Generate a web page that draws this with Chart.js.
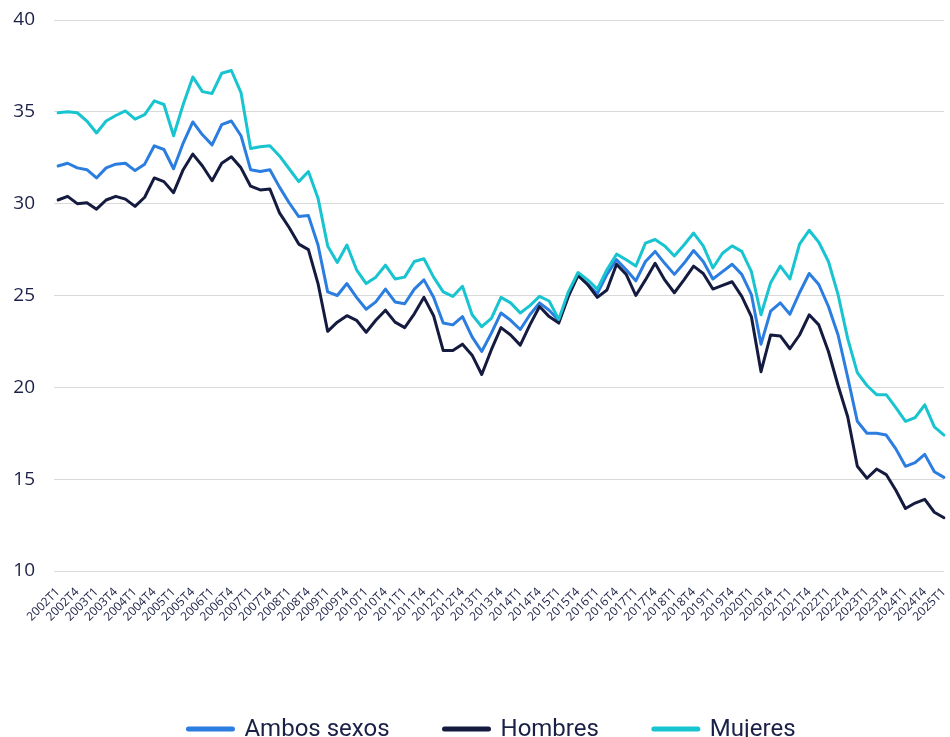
<!DOCTYPE html>
<html>
<head>
<meta charset="utf-8">
<script src="https://cdn.jsdelivr.net/npm/chart.js@4.4.1/dist/chart.umd.min.js"></script>
<style>
    html, body { margin: 0; padding: 0; background: #ffffff; }
    #chartContainer { width: 950px; height: 737px; position: relative; }
</style>
</head>
<body>
<div id="chartContainer"><canvas id="myChart"></canvas></div>
<script>
// trimestres 2002T1 .. 2025T1
var quarters = [];
for (var year = 2002; year <= 2025; year++) {
    for (var q = 1; q <= 4; q++) {
        if (year === 2025 && q > 1) break;
        quarters.push(year + 'T' + q);
    }
}

// etiquetas del eje tal como aparecen (una cada dos trimestres)
var tickLabels = [
    '2002T1', '2002T4', '2003T1', '2003T4', '2004T1', '2004T4', '2005T1', '2005T4',
    '2006T1', '2006T4', '2007T1', '2007T4', '2008T1', '2008T4', '2009T1', '2009T4',
    '2010T1', '2010T4', '2011T1', '2011T4', '2012T1', '2012T4', '2013T1', '2013T4',
    '2014T1', '2014T4', '2015T1', '2015T4', '2016T1', '2016T4', '2017T1', '2017T4',
    '2018T1', '2018T4', '2019T1', '2019T4', '2020T1', '2020T4', '2021T1', '2021T4',
    '2022T1', '2022T4', '2023T1', '2023T4', '2024T1', '2024T4', '2025T1'
];

var ambosSexos = [
    32.05, 32.2, 31.95, 31.85, 31.4, 31.95, 32.15, 32.2, 31.8, 32.15,
    33.15, 32.95, 31.9, 33.3, 34.45, 33.75, 33.2, 34.3, 34.5, 33.7,
    31.85, 31.75, 31.85, 30.9, 30.05, 29.3, 29.35, 27.75, 25.2, 25.0,
    25.65, 24.9, 24.25, 24.65, 25.35, 24.65, 24.55, 25.35, 25.85, 24.9,
    23.5, 23.4, 23.85, 22.75, 21.95, 22.95, 24.05, 23.65, 23.15, 23.95,
    24.6, 24.2, 23.65, 25.1, 26.1, 25.6, 25.1, 26.15, 26.95, 26.4,
    25.8, 26.85, 27.4, 26.75, 26.15, 26.75, 27.45, 26.85, 25.9, 26.3,
    26.7, 26.15, 25.05, 22.35, 24.15, 24.6, 23.98, 25.15, 26.2, 25.6,
    24.4, 22.85, 20.55, 18.15, 17.5, 17.5, 17.4, 16.65, 15.7, 15.9,
    16.35, 15.4, 15.1
];

var hombres = [
    30.2, 30.4, 30.0, 30.05, 29.7, 30.2, 30.4, 30.25, 29.85, 30.35,
    31.4, 31.2, 30.6, 31.85, 32.7, 32.05, 31.25, 32.2, 32.55, 31.95,
    30.95, 30.75, 30.8, 29.5, 28.7, 27.8, 27.5, 25.65, 23.05, 23.55,
    23.9, 23.65, 23.0, 23.65, 24.2, 23.55, 23.25, 24.0, 24.9, 23.9,
    22.0, 22.0, 22.35, 21.75, 20.7, 22.05, 23.25, 22.85, 22.3, 23.4,
    24.4, 23.85, 23.5, 24.95, 26.1, 25.6, 24.9, 25.3, 26.7, 26.15,
    25.0, 25.85, 26.75, 25.85, 25.15, 25.85, 26.6, 26.2, 25.35, 25.55,
    25.75, 24.95, 23.85, 20.85, 22.85, 22.8, 22.1, 22.85, 23.95, 23.4,
    21.95, 20.1, 18.4, 15.7, 15.05, 15.55, 15.25, 14.4, 13.4, 13.7,
    13.9, 13.2, 12.9
];

var mujeres = [
    34.95, 35.0, 34.95, 34.5, 33.85, 34.5, 34.8, 35.05, 34.6, 34.85,
    35.6, 35.4, 33.7, 35.4, 36.9, 36.1, 36.0, 37.1, 37.25, 36.05,
    33.0, 33.1, 33.15, 32.6, 31.9, 31.2, 31.75, 30.3, 27.7, 26.8,
    27.75, 26.4, 25.65, 26.0, 26.65, 25.9, 26.0, 26.85, 27.0, 26.0,
    25.2, 24.95, 25.5, 23.95, 23.3, 23.75, 24.9, 24.6, 24.05, 24.45,
    24.95, 24.7, 23.7, 25.2, 26.25, 25.85, 25.35, 26.4, 27.25, 26.95,
    26.6, 27.85, 28.05, 27.7, 27.15, 27.75, 28.4, 27.7, 26.5, 27.3,
    27.7, 27.4, 26.3, 23.95, 25.7, 26.6, 25.9, 27.8, 28.55, 27.9,
    26.85, 25.05, 22.65, 20.8, 20.1, 19.6, 19.6, 18.9, 18.15, 18.35,
    19.05, 17.85, 17.4
];

var seriesNames = ['Ambos sexos', 'Hombres', 'Mujeres'];
var seriesColors = ['#2b7de0', '#141b3f', '#17c4d0'];
var textColor = '#1b2146';

// leyenda abajo con trazos redondeados
var bottomLegend = {
    id: 'bottomLegend',
    afterDraw: function (chart) {
        var ctx = chart.ctx;
        var lineLen = 48, gapText = 10, gapItem = 53;
        ctx.save();
        ctx.font = '24px Roboto';
        var widths = chart.data.datasets.map(function (ds) { return ctx.measureText(ds.label).width; });
        var total = 0;
        widths.forEach(function (w) { total += lineLen + gapText + w; });
        total += gapItem * (widths.length - 1);
        var x = 491 - total / 2;
        chart.data.datasets.forEach(function (ds, i) {
            ctx.strokeStyle = ds.borderColor;
            ctx.lineWidth = 5;
            ctx.lineCap = 'round';
            ctx.beginPath();
            ctx.moveTo(x + 2, 729);
            ctx.lineTo(x + lineLen - 2, 729);
            ctx.stroke();
            ctx.fillStyle = textColor;
            ctx.textBaseline = 'alphabetic';
            ctx.textAlign = 'left';
            ctx.fillText(ds.label, x + lineLen + gapText, 736);
            x += lineLen + gapText + widths[i] + gapItem;
        });
        ctx.restore();
    }
};

var ctx = document.getElementById('myChart').getContext('2d');

var myChart = new Chart(ctx, {
    type: 'line',
    data: {
        labels: quarters,
        datasets: [
            { label: seriesNames[0], data: ambosSexos, borderColor: seriesColors[0], order: 3 },
            { label: seriesNames[1], data: hombres, borderColor: seriesColors[1], order: 2 },
            { label: seriesNames[2], data: mujeres, borderColor: seriesColors[2], order: 1 }
        ]
    },
    options: {
        responsive: true,
        maintainAspectRatio: false,
        animation: false,
        layout: { padding: { left: 0, right: 6, top: 2, bottom: 0 } },
        elements: {
            line: { borderWidth: 3, tension: 0, borderJoinStyle: 'round', borderCapStyle: 'round' },
            point: { radius: 0 }
        },
        plugins: {
            legend: { display: false },
            tooltip: { enabled: false }
        },
        scales: {
            x: {
                grid: { display: false },
                border: { display: false },
                afterFit: function (scale) {
                    scale.height = 166;
                    scale.paddingRight = 0;
                },
                ticks: {
                    autoSkip: false,
                    minRotation: 45,
                    maxRotation: 45,
                    padding: 6,
                    color: textColor,
                    font: { family: 'Open Sans', size: 12 },
                    callback: function (value, index) {
                        return index % 2 === 0 ? tickLabels[index / 2] : '';
                    }
                }
            },
            y: {
                min: 10,
                max: 40,
                border: { display: false },
                afterFit: function (scale) {
                    scale.width = 58;
                    scale.paddingTop = 20;
                    scale.paddingBottom = 0;
                },
                grid: { color: '#d9d9d9', lineWidth: 1, tickLength: 4 },
                ticks: {
                    stepSize: 5,
                    padding: 19,
                    color: textColor,
                    font: { family: 'Open Sans', size: 19 }
                }
            }
        }
    },
    plugins: [bottomLegend]
});
</script>
</body>
</html>
